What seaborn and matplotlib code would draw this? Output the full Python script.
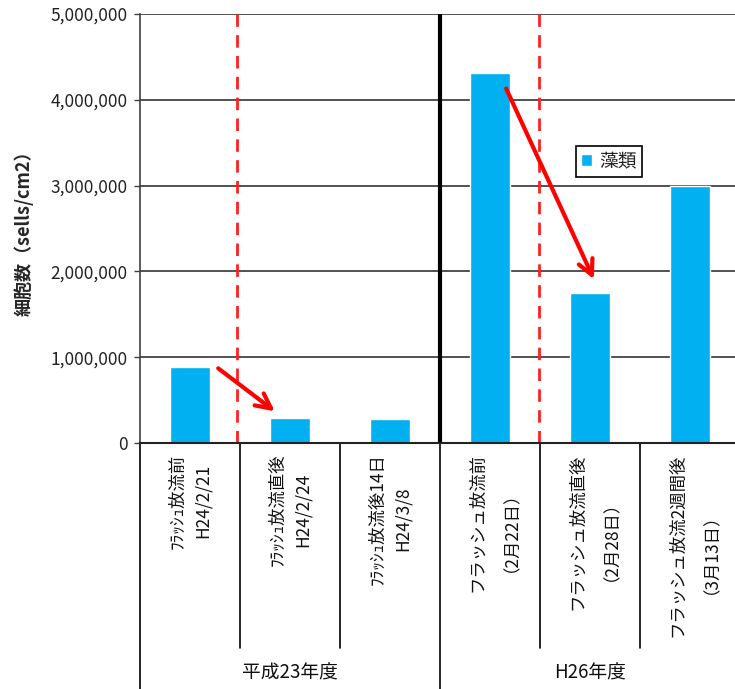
import matplotlib
matplotlib.use("Agg")
import matplotlib.pyplot as plt
from matplotlib.ticker import FuncFormatter
import seaborn as sns
import pandas as pd

# Algae cell counts before/after flush discharge
categories = [
    "ﾌﾗｯｼｭ放流前\nH24/2/21",
    "ﾌﾗｯｼｭ放流直後\nH24/2/24",
    "ﾌﾗｯｼｭ放流後14日\nH24/3/8",
    "フラッシュ放流前\n（2月22日）",
    "フラッシュ放流直後\n（2月28日）",
    "フラッシュ放流2週間後\n（3月13日）",
]
values = [890000, 290000, 285000, 4310000, 1750000, 3000000]
groups = ["平成23年度", "H26年度"]
series_name = "藻類"
y_ticks = [0, 1000000, 2000000, 3000000, 4000000, 5000000]

sns.set_theme(style="white")
plt.rcParams["font.family"] = ["Noto Sans CJK JP", "DejaVu Sans"]

df = pd.DataFrame({"category": categories, "value": values, "series": series_name})

fig = plt.figure(figsize=(7.35, 6.89), dpi=100)
ax = fig.add_axes([140 / 735, (689 - 443) / 689, 600 / 735, 429 / 689])

sns.barplot(data=df, x="category", y="value", hue="series",
            palette=["#00B0F0"], saturation=1, width=0.4, ax=ax, legend=True)

ax.set_xlim(-0.5, 5.5)
ax.set_ylim(0, 5000000)
ax.set_yticks(y_ticks)
ax.yaxis.set_major_formatter(FuncFormatter(lambda v, p: f"{int(v):,}"))
ax.tick_params(axis="y", labelsize=12.5, length=4, width=1, color="#404040",
               left=True, pad=5, labelcolor="#222222")
ax.yaxis.grid(True, color="#333333", linewidth=1.2)
ax.set_axisbelow(True)

for side in ["top", "right"]:
    ax.spines[side].set_visible(False)
ax.spines["left"].set_color("#404040")
ax.spines["bottom"].set_color("#222222")
ax.spines["left"].set_linewidth(1.2)
ax.spines["bottom"].set_linewidth(1.5)

ax.set_xlabel("")
ax.set_xticks(range(len(categories)))
ax.set_xticklabels([])
ax.tick_params(axis="x", bottom=False)
ax.set_ylabel("細胞数（sells/cm2）", fontsize=13, fontweight="bold", labelpad=12)

# category labels (rotated, hanging below the axis)
for i, lab in enumerate(categories):
    ax.text(i, -0.024, lab, transform=ax.get_xaxis_transform(), rotation=90,
            ha="center", va="top", multialignment="center", fontsize=12.5,
            linespacing=1.5, color="#111111")

# separators below the axis
xt = ax.get_xaxis_transform()
for b in [0.5, 1.5, 3.5, 4.5]:
    ax.plot([b, b], [0, -0.478], transform=xt, color="black", lw=1.2, clip_on=False)
for b in [-0.5, 2.5, 5.5]:
    ax.plot([b, b], [0, -0.575], transform=xt, color="black", lw=1.2, clip_on=False)

# group labels
for g, center in zip(groups, [1.0, 4.0]):
    ax.text(center, -0.535, g, transform=xt, ha="center", va="center",
            fontsize=13.5, color="#111111")

# thick divider between fiscal years
ax.axvline(2.5, color="black", lw=3)

# red dashed markers for the flush timing
for xpos in [0.47, 3.49]:
    ax.axvline(xpos, color="#FF2020", lw=2, ls=(0, (4.5, 3)))

# arrows showing the decrease after flushing
arrow_kw = dict(arrowstyle="->,head_length=0.9,head_width=0.45", color="#FF0000", lw=3)
ax.annotate("", xy=(0.87, 350000), xytext=(0.26, values[0]), arrowprops=arrow_kw)
ax.annotate("", xy=(4.05, 1880000), xytext=(3.15, 4160000), arrowprops=arrow_kw)

leg = ax.legend(loc="upper left", bbox_to_anchor=(0.73, 0.688), frameon=True,
                fancybox=False, edgecolor="black", fontsize=13.5, handlelength=0.6,
                handleheight=0.6, handletextpad=0.4, borderpad=0.15,
                borderaxespad=0, framealpha=1)
leg.get_frame().set_linewidth(1.2)
leg.get_frame().set_boxstyle("square", pad=0.12)

fig.savefig("out.png", dpi=100)
